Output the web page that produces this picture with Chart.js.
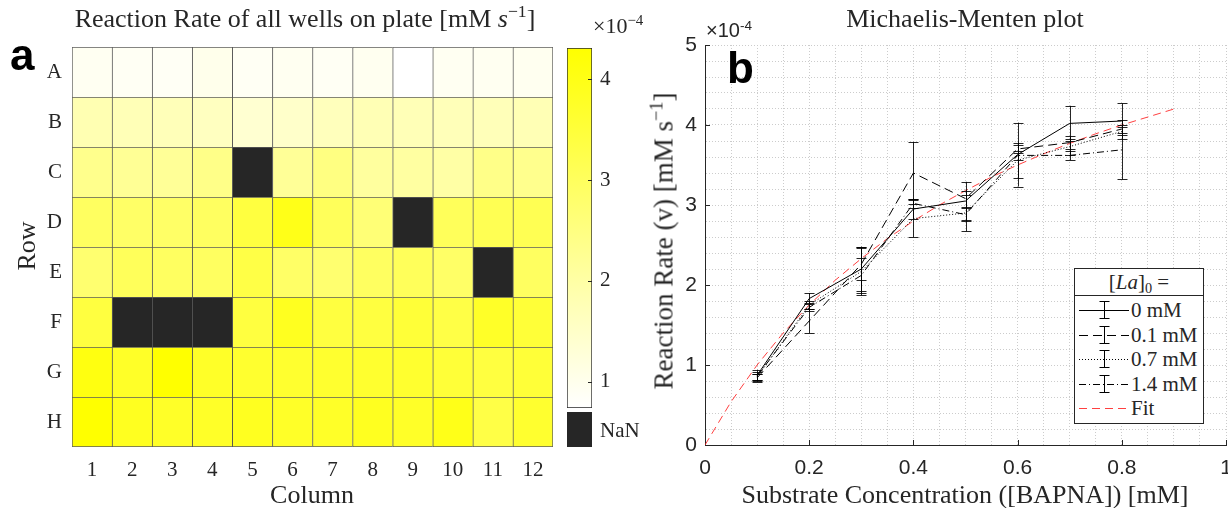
<!DOCTYPE html>
<html><head><meta charset="utf-8">
<script src="https://cdn.jsdelivr.net/npm/chart.js@4.4.1/dist/chart.umd.min.js"></script>
<style>
html,body{margin:0;padding:0;background:#fff;}
#wrap{position:relative;width:1228px;height:508px;overflow:hidden;font-family:'Liberation Serif',serif;color:#262626;}
canvas{position:absolute;}
.lbl{position:absolute;white-space:nowrap;line-height:1;}
sup{font-size:0.68em;vertical-align:0.55em;line-height:0;}
sub{font-size:0.68em;vertical-align:-0.25em;line-height:0;}
#leg{position:absolute;left:1074px;top:268px;width:128px;height:154px;border:1px solid #262626;background:#fff;font-size:21px;}
#leg .hd{position:absolute;left:0;top:0;width:128px;height:26px;border-bottom:1px solid #262626;text-align:center;line-height:26px;}
#leg .row{position:absolute;left:0;width:128px;height:24px;}
#leg .row svg{position:absolute;left:4px;top:0;}
#leg .row span{position:absolute;left:56px;top:2px;line-height:20px;}
</style></head><body>
<div id="wrap">
<canvas id="heat" width="560" height="508" style="left:0;top:0"></canvas>
<canvas id="cbar" width="80" height="508" style="left:560px;top:0"></canvas>
<canvas id="mm" width="608" height="508" style="left:620px;top:0"></canvas>

<div class="lbl" style="left:10px;top:30px;font:bold 44px 'Liberation Sans',Arial,sans-serif;color:#000">a</div>
<div class="lbl" style="left:727px;top:43px;font:bold 44px 'Liberation Sans',Arial,sans-serif;color:#000">b</div>

<div class="lbl" style="left:305px;top:6px;transform:translateX(-50%);font-size:26px">Reaction Rate of all wells on plate [mM <i>s</i><sup>−1</sup>]</div>
<div class="lbl" style="left:593px;top:15px;font-size:22px">×10<sup>−4</sup></div>
<div class="lbl" style="left:312px;top:482px;transform:translateX(-50%);font-size:26px">Column</div>
<div class="lbl" style="left:27px;top:246px;transform:translate(-50%,-50%) rotate(-90deg);font-size:26px">Row</div>
<div style="position:absolute;left:567px;top:412px;width:25px;height:35px;background:#262626"></div>
<div class="lbl" style="left:600px;top:420px;font-size:21px">NaN</div>

<div class="lbl" style="left:965px;top:6px;transform:translateX(-50%);font-size:26px">Michaelis-Menten plot</div>
<div class="lbl" style="left:706px;top:19px;font:20px 'Liberation Sans',Arial,sans-serif">×10<sup>-4</sup></div>
<div class="lbl" style="left:965px;top:482px;transform:translateX(-50%);font-size:26px">Substrate Concentration ([BAPNA]) [mM]</div>
<div class="lbl" style="left:664px;top:241px;transform:translate(-50%,-50%) rotate(-90deg);font-size:27px">Reaction Rate (v) [mM s<sup>−1</sup>]</div>

<div id="leg">
  <div class="hd">[<i>La</i>]<sub>0</sub> =</div>
</div>
</div>
<script>
// ---------- Panel a: plate heatmap (values in units of 1e-4 mM/s; null = NaN) ----------
const rowLabels = ['A','B','C','D','E','F','G','H'];
const colLabels = ['1','2','3','4','5','6','7','8','9','10','11','12'];
const rowA = [0.92, 0.90, 0.88, 1.02, 0.90, 0.94, 0.90, 0.95, 0.74, 0.92, 0.93, 0.95];
const rowB = [1.82, 1.75, 1.72, 1.62, 1.38, 1.48, 1.68, 1.78, 1.75, 1.72, 1.72, 1.78];
const rowC = [2.35, 2.23, 2.20, 2.40, null, 2.20, 2.50, 2.10, 2.05, 2.00, 2.40, 2.33];
const rowD = [2.96, 2.88, 2.88, 2.96, 3.42, 3.97, 3.05, 2.66, null, 3.05, 3.15, 3.15];
const rowE = [2.76, 3.05, 2.96, 2.96, 3.33, 2.88, 2.76, 2.96, 3.05, 2.88, null, 2.96];
const rowF = [3.42, null, null, null, 3.42, 3.86, 3.42, 3.42, 3.52, 3.33, 3.75, 3.52];
const rowG = [4.09, 3.75, 4.31, 3.75, 3.65, 3.65, 3.65, 3.65, 3.65, 3.52, 3.42, 3.52];
const rowH = [4.31, 3.86, 3.75, 3.75, 3.86, 3.75, 3.75, 3.86, 3.75, 3.97, 3.33, 3.65];
const plateRows = [rowA, rowB, rowC, rowD, rowE, rowF, rowG, rowH];
const cbMin = 0.74, cbMax = 4.31;
const cbTicks = [1, 2, 3, 4];

// ---------- Panel b: Michaelis-Menten (values in units of 1e-4 mM/s) ----------
const substrate = [0.1, 0.2, 0.3, 0.4, 0.5, 0.6, 0.7, 0.8];
const rate_0   = [0.87, 1.83, 2.20, 2.95, 3.05, 3.63, 4.02, 4.05];
const err_0    = [0.07, 0.07, 0.28, 0.12, 0.24, 0.40, 0.22, 0.22];
const rate_01  = [0.84, 1.55, 2.26, 3.40, 3.08, 3.70, 3.78, 3.95];
const err_01   = [0.05, 0.15, 0.20, 0.39, 0.10, 0.05, 0.08, 0.05];
const rate_07  = [0.85, 1.75, 2.17, 2.83, 2.90, 3.56, 3.73, 3.92];
const err_07   = [0.04, 0.05, 0.30, 0.23, 0.23, 0.22, 0.10, 0.05];
const rate_14  = [0.86, 1.72, 2.12, 3.02, 2.88, 3.62, 3.62, 3.69];
const err_14   = [0.05, 0.05, 0.22, 0.06, 0.08, 0.06, 0.06, 0.37];
const fitX = [0, 0.05, 0.1, 0.15, 0.2, 0.25, 0.3, 0.35, 0.4, 0.45, 0.5, 0.55, 0.6, 0.65, 0.7, 0.75, 0.8, 0.85, 0.9];
const fitY = [0, 0.54, 1.0, 1.4, 1.75, 2.06, 2.33, 2.58, 2.8, 3.0, 3.18, 3.35, 3.5, 3.64, 3.77, 3.89, 4.0, 4.1, 4.2];
const seriesLabels = ['0 mM', '0.1 mM', '0.7 mM', '1.4 mM', 'Fit'];

const SERIF = "'Liberation Serif', serif";
const SANS = "'Liberation Sans', Arial, sans-serif";
const TXT = '#262626';

function yellowMap(v) {
  if (v === null || v === undefined) return '#262626';
  let t = (v - cbMin) / (cbMax - cbMin);
  t = Math.max(0, Math.min(1, t));
  return 'rgb(255,255,' + Math.round(255 * (1 - t)) + ')';
}

// inner tick marks (MATLAB style)
const innerTicks = {
  id: 'innerTicks',
  afterDraw(chart, args, opts) {
    if (!opts || !opts.axes) return;
    const ctx = chart.ctx;
    const a = chart.chartArea;
    ctx.save();
    ctx.strokeStyle = TXT; ctx.lineWidth = 1;
    opts.axes.forEach(ax => {
      const s = chart.scales[ax.id];
      ax.values.forEach(v => {
        const p = Math.round(s.getPixelForValue(v)) + 0.5;
        ctx.beginPath();
        if (ax.side === 'bottom') { ctx.moveTo(p, a.bottom); ctx.lineTo(p, a.bottom - ax.len); }
        else if (ax.side === 'left') { ctx.moveTo(a.left, p); ctx.lineTo(a.left + ax.len, p); }
        else if (ax.side === 'right') { ctx.moveTo(a.right, p); ctx.lineTo(a.right - ax.len, p); }
        ctx.stroke();
      });
    });
    ctx.restore();
  }
};

// error bars drawn through the chart scales
const errorBars = {
  id: 'errorBars',
  afterDatasetsDraw(chart) {
    const ctx = chart.ctx, xs = chart.scales.x, ys = chart.scales.y;
    ctx.save();
    ctx.lineWidth = 1;
    ctx.setLineDash([]);
    chart.data.datasets.forEach(ds => {
      if (!ds.errors) return;
      ctx.strokeStyle = 'rgba(0,0,0,0.85)';
      ds.data.forEach((pt, i) => {
        const e = ds.errors[i];
        const x = Math.round(xs.getPixelForValue(pt.x)) + 0.5;
        const y1 = ys.getPixelForValue(pt.y + e), y2 = ys.getPixelForValue(pt.y - e);
        ctx.beginPath();
        ctx.moveTo(x, y1); ctx.lineTo(x, y2);
        ctx.moveTo(x - 5, Math.round(y1) + 0.5); ctx.lineTo(x + 5, Math.round(y1) + 0.5);
        ctx.moveTo(x - 5, Math.round(y2) + 0.5); ctx.lineTo(x + 5, Math.round(y2) + 0.5);
        ctx.stroke();
      });
    });
    ctx.restore();
  }
};

// ---------- heatmap ----------
new Chart(document.getElementById('heat'), {
  type: 'bar',
  data: {
    labels: colLabels,
    datasets: plateRows.map((row, ri) => ({
      data: row.map(() => [ri + 0.5, ri + 1.5]),
      backgroundColor: row.map(yellowMap),
      borderColor: 'rgba(38,38,38,0.75)',
      borderWidth: (c) => ({ top: 1, left: 1, right: c.dataIndex === colLabels.length - 1 ? 1 : 0, bottom: ri === plateRows.length - 1 ? 1 : 0 }),
      borderSkipped: false,
      barPercentage: 1, categoryPercentage: 1, grouped: false
    }))
  },
  options: {
    responsive: false, animation: false, devicePixelRatio: 1,
    layout: { padding: { top: 47, right: 7, left: 0, bottom: 0 } },
    plugins: { legend: { display: false }, tooltip: { enabled: false } },
    scales: {
      x: {
        grid: { display: false, drawTicks: false }, border: { display: false },
        ticks: { color: TXT, font: { family: SERIF, size: 21 }, padding: 11, maxRotation: 0 },
        afterFit: s => { s.height = 61; }
      },
      y: {
        type: 'linear', reverse: true, min: 0.5, max: 8.5,
        grid: { display: false, drawTicks: false }, border: { display: false },
        afterBuildTicks: s => { s.ticks = rowLabels.map((_, i) => ({ value: i + 1 })); },
        ticks: { color: TXT, font: { family: SERIF, size: 21 }, padding: 10, callback: v => rowLabels[v - 1] || '' },
        afterFit: s => { s.width = 72; }
      }
    }
  }
});

// ---------- colorbar ----------
new Chart(document.getElementById('cbar'), {
  type: 'bar',
  data: {
    labels: [''],
    datasets: [{
      data: [[cbMin, cbMax]],
      backgroundColor: (c) => {
        const ch = c.chart; if (!ch.chartArea) return '#ffff80';
        const ys = ch.scales.y;
        const g = ch.ctx.createLinearGradient(0, ys.getPixelForValue(cbMin), 0, ys.getPixelForValue(cbMax));
        g.addColorStop(0, yellowMap(cbMin)); g.addColorStop(1, yellowMap(cbMax));
        return g;
      },
      borderColor: '#262626', borderWidth: 1, borderSkipped: false,
      barPercentage: 1, categoryPercentage: 1
    }]
  },
  options: {
    responsive: false, animation: false, devicePixelRatio: 1,
    layout: { padding: { top: 48, left: 7, right: 0, bottom: 100 } },
    plugins: { legend: { display: false }, tooltip: { enabled: false },
      innerTicks: { axes: [{ id: 'y', side: 'right', len: 4, values: cbTicks }] } },
    scales: {
      x: { display: false },
      y: {
        position: 'right', min: cbMin, max: cbMax,
        afterBuildTicks: s => { s.ticks = cbTicks.map(v => ({ value: v })); },
        grid: { display: false, drawTicks: false }, border: { display: false },
        ticks: { color: TXT, font: { family: SERIF, size: 21 }, padding: 8 },
        afterFit: s => { s.width = 48; }
      }
    }
  },
  plugins: [innerTicks]
});

// ---------- Michaelis-Menten ----------
const pts = (xs, ys) => xs.map((x, i) => ({ x: x, y: ys[i] }));
const lineDs = (label, ys, errs, dash) => ({
  label: label, data: pts(substrate, ys), errors: errs,
  borderColor: '#000', borderWidth: 1, borderDash: dash,
  pointRadius: 0, fill: false, tension: 0
});
new Chart(document.getElementById('mm'), {
  type: 'line',
  data: {
    datasets: [
      lineDs(seriesLabels[0], rate_0, err_0, []),
      lineDs(seriesLabels[1], rate_01, err_01, [9, 5]),
      lineDs(seriesLabels[2], rate_07, err_07, [1, 2]),
      lineDs(seriesLabels[3], rate_14, err_14, [7, 3, 1, 3]),
      { label: seriesLabels[4], data: pts(fitX, fitY), borderColor: 'rgba(255,30,30,0.85)', borderWidth: 1,
        borderDash: [8, 5], pointRadius: 0, fill: false, tension: 0 }
    ]
  },
  options: {
    responsive: false, animation: false, devicePixelRatio: 1,
    layout: { padding: { top: 45, right: 2, left: 0, bottom: 0 } },
    plugins: { legend: { display: false }, tooltip: { enabled: false },
      innerTicks: { axes: [
        { id: 'x', side: 'bottom', len: 5, values: [0.2, 0.4, 0.6, 0.8, 1] },
        { id: 'y', side: 'left', len: 5, values: [1, 2, 3, 4, 5] } ] } },
    scales: {
      x: {
        type: 'linear', min: 0, max: 1,
        ticks: { stepSize: 0.05, autoSkip: false, maxRotation: 0, color: TXT, font: { family: SANS, size: 21 }, padding: 11,
          callback: v => { const r = Math.round(v * 100); if (r % 20) return ''; return r === 0 ? '0' : (r === 100 ? '1' : (r / 100).toFixed(1)); } },
        grid: { color: '#cccccc', lineWidth: 1, drawTicks: false },
        border: { color: TXT, width: 1, dash: [1, 2] },
        afterFit: s => { s.height = 63; s.paddingRight = 0; s.paddingLeft = 0; }
      },
      y: {
        type: 'linear', min: 0, max: 5,
        ticks: { stepSize: 0.2, autoSkip: false, color: TXT, font: { family: SANS, size: 21 }, padding: 8,
          callback: v => { const r = Math.round(v * 10); return r % 10 ? '' : String(r / 10); } },
        grid: { color: '#cccccc', lineWidth: 1, drawTicks: false },
        border: { color: TXT, width: 1, dash: [1, 2] },
        afterFit: s => { s.width = 85; s.paddingTop = 0; s.paddingBottom = 0; }
      }
    }
  },
  plugins: [errorBars, innerTicks]
});

// ---------- legend (HTML) ----------
const legDash = [[], [9, 5], [1, 2], [7, 3, 1, 3], [8, 5]];
const leg = document.getElementById('leg');
seriesLabels.forEach((lab, i) => {
  const row = document.createElement('div');
  row.className = 'row';
  row.style.top = (29 + i * 24.5) + 'px';
  const isFit = i === 4;
  const col = isFit ? 'rgba(255,30,30,0.85)' : '#000';
  const eb = isFit ? '' : '<line x1="25.5" y1="3" x2="25.5" y2="21" stroke="#000"/><line x1="20.5" y1="3.5" x2="30.5" y2="3.5" stroke="#000"/><line x1="20.5" y1="20.5" x2="30.5" y2="20.5" stroke="#000"/>';
  row.innerHTML = '<svg width="52" height="24"><line x1="0" y1="12.5" x2="50" y2="12.5" stroke="' + col + '" stroke-width="1" stroke-dasharray="' + (legDash[i].length ? legDash[i].join(' ') : 'none') + '"/>' + eb + '</svg><span>' + lab + '</span>';
  leg.appendChild(row);
});
</script>
</body></html>
